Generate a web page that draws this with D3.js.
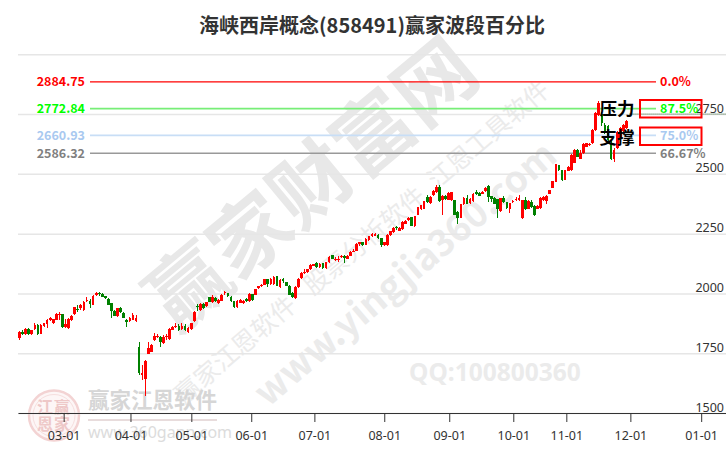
<!DOCTYPE html>
<html><head><meta charset="utf-8">
<script src="https://cdn.jsdelivr.net/npm/d3@7/dist/d3.min.js"></script>
<style>html,body{margin:0;padding:0;background:#fff}svg{display:block}</style></head>
<body><svg id="c" width="726" height="450"></svg>
<script>
// [open, close, high, low]
const legFebMar=[[1813,1838,1841,1807],[1840,1831,1845,1828],[1829,1852,1854,1827],[1852,1829,1854,1827],[1829,1845,1847,1827],[1852,1866,1875,1847],[1866,1829,1873,1825],[1831,1868,1873,1829],[1864,1875,1878,1860],[1873,1887,1892,1855],[1887,1899,1903,1885],[1875,1891,1895,1873],[1889,1915,1918,1887],[1910,1915,1922,1887],[1912,1859,1914,1857],[1859,1873,1893,1856],[1854,1893,1897,1852],[1889,1907,1910,1885],[1912,1943,1945,1910],[1935,1930,1953,1924],[1938,1953,1957,1931],[1929,1965,1968,1927],[1970,1973,1984,1965],[1970,1957,1977,1938],[1952,1990,1993,1950],[1993,2001,2007,1990],[2001,1998,2008,1990],[1998,1987,2001,1985],[1988,1980,1991,1978],[1976,1953,1980,1950],[1959,1925,1962,1896],[1927,1907,1930,1904],[1904,1938,1941,1901],[1937,1921,1942,1918],[1920,1899,1922,1897],[1889,1879,1891,1859],[1883,1897,1903,1880],[1890,1909,1917,1887],[1883,1896,1910,1881]];
const legAprJun=[[1777,1669,1795,1660],[1658,1666,1701,1638],[1641,1719,1723,1572],[1747,1772,1798,1745],[1757,1784,1787,1755],[1805,1820,1833,1803],[1816,1820,1829,1814],[1817,1798,1820,1775],[1791,1819,1828,1789],[1816,1820,1830,1805],[1809,1852,1855,1807],[1847,1861,1864,1845],[1858,1865,1875,1855],[1865,1847,1873,1843],[1851,1865,1875,1848],[1862,1845,1872,1841],[1837,1855,1860,1835],[1851,1875,1878,1849],[1884,1923,1926,1882],[1948,1942,1957,1925],[1929,1957,1960,1927],[1957,1938,1960,1936],[1947,1963,1966,1945],[1984,1966,1987,1963],[1963,1984,1993,1961],[1981,1967,1984,1965],[1959,1973,1976,1957],[1970,1995,1998,1968],[2001,2007,2012,1993],[2001,1988,2003,1986],[1987,1967,1990,1965],[1967,1942,1969,1940],[1942,1970,1972,1940],[1962,1973,1978,1959]];
const legJunAug=[[1958,1969,1972,1955],[1976,1969,1982,1966],[1967,1997,2000,1964],[1997,1972,1999,1970],[1995,2018,2020,1993],[2022,2029,2032,2020],[2029,2036,2039,2027],[2036,2060,2062,2034],[2060,2039,2062,2025],[2039,2060,2063,2037],[2039,2070,2072,2037],[2071,2032,2073,2030],[2025,2057,2059,2023],[2059,2052,2064,2045],[2046,2032,2048,2030],[2032,1994,2034,1992],[2000,1983,2007,1980],[1980,2028,2030,1978],[2025,2061,2063,2023],[2063,2087,2089,2061],[2085,2090,2102,2081],[2088,2101,2104,2086],[2101,2120,2123,2099],[2116,2121,2125,2114],[2128,2109,2131,2106],[2109,2123,2126,2107],[2126,2106,2128,2104],[2105,2131,2133,2103],[2130,2154,2157,2128],[2160,2144,2162,2142],[2143,2146,2154,2134],[2143,2146,2157,2132],[2151,2157,2160,2149],[2157,2147,2160,2126],[2144,2158,2160,2142],[2158,2173,2176,2156],[2175,2179,2185,2172],[2178,2207,2210,2176],[2207,2213,2214,2200],[2215,2201,2217,2199],[2204,2228,2230,2202],[2223,2239,2242,2221],[2239,2249,2252,2237],[2242,2249,2252,2240],[2246,2230,2249,2228],[2231,2202,2233,2196],[2202,2214,2216,2200],[2202,2246,2248,2200],[2244,2259,2262,2242],[2255,2274,2277,2253],[2277,2272,2281,2266],[2263,2274,2277,2261]];
const legAugOct=[[2269,2298,2301,2267],[2291,2303,2306,2289],[2305,2316,2319,2303],[2319,2284,2321,2282],[2281,2322,2325,2279],[2330,2361,2363,2328],[2352,2368,2371,2350],[2354,2385,2388,2352],[2403,2382,2410,2378],[2378,2403,2406,2376],[2410,2428,2432,2408],[2424,2445,2452,2422],[2445,2385,2452,2383],[2392,2406,2410,2330],[2406,2393,2410,2391],[2392,2421,2424,2390],[2389,2424,2426,2387],[2389,2330,2391,2328],[2340,2315,2344,2291],[2316,2372,2374,2314],[2372,2400,2403,2370],[2400,2375,2410,2372],[2378,2396,2399,2376],[2385,2417,2420,2383],[2424,2414,2431,2410],[2420,2408,2423,2406],[2417,2424,2427,2415],[2427,2441,2445,2425],[2449,2403,2453,2382],[2406,2396,2409,2382],[2400,2375,2403,2372],[2393,2354,2396,2315],[2344,2399,2401,2342],[2400,2382,2406,2380],[2382,2357,2384,2355],[2354,2378,2380,2336],[2382,2386,2389,2380],[2392,2396,2403,2385],[2392,2397,2413,2385],[2316,2389,2392,2313],[2392,2354,2403,2350],[2354,2386,2389,2352],[2382,2361,2391,2358],[2365,2326,2368,2323],[2354,2365,2368,2352],[2357,2400,2403,2355],[2389,2403,2406,2387],[2386,2407,2410,2372],[2417,2431,2434,2415],[2441,2469,2472,2439]];
const legOctNov=[[2466,2540,2543,2464],[2536,2515,2539,2512],[2515,2473,2518,2470],[2476,2515,2518,2474],[2512,2529,2532,2510],[2515,2578,2581,2513],[2546,2599,2606,2544],[2599,2571,2602,2569],[2564,2589,2600,2562],[2586,2624,2628,2584],[2613,2627,2631,2611],[2620,2625,2629,2618],[2628,2683,2686,2626],[2683,2754,2758,2681],[2746,2796,2806,2744],[2752,2714,2760,2700],[2706,2673,2712,2668],[2700,2640,2705,2635],[2624,2561,2640,2558],[2561,2599,2610,2550],[2607,2675,2680,2605],[2649,2691,2696,2645],[2680,2705,2710,2675],[2691,2721,2726,2688]];
const candles=[].concat(legFebMar,legAprJun,legJunAug,legAugOct,legOctNov);

const slotCount=231;
const tickLabels=["03-01","04-01","05-01","06-01","07-01","08-01","09-01","10-01","11-01","12-01","01-01"];
const tickSlots=[14.4,36.2,56.05,75.6,96.2,119,140.2,161.1,178.4,199.3,222.4];
const priceTicks=[1500,1750,2000,2250,2500,2750,3000];
const levelValues=[2884.75,2772.84,2660.93,2586.32];
const levelPercents=["0.0%","87.5%","75.0%","66.67%"];
const levelColors=["#ff0000","#00ff00","#a9c9f0","#808080"];
const lineColors=["#ff0000","#77ee77","#c8def6","#999999"];
const lastPrice=2750;

const UP="#ff0000",DOWN="#008000",FONT="'Noto Sans CJK SC','Noto Sans',sans-serif";
const svg=d3.select("#c");
const x=d3.scaleLinear().domain([-0.5,slotCount-0.5]).range([18,726]);
const y=d3.scaleLinear().domain([1500,3000]).range([413,54.3]);

// watermarks
const wm=svg.append("g").attr("font-family",FONT);
function mark(t,px,py,a,size,weight,color){
  wm.append("text").attr("transform",`translate(${px},${py}) rotate(${a})`)
    .attr("font-size",size).attr("font-weight",weight).attr("fill",color).text(t);
}
mark("赢家财富网",176,334,-39.7,80,700,"#e8e8e8");
mark("赢家江恩软件",184,405,-40.4,25,400,"#ebebeb");
mark("股票分析软件",313,296,-40.4,25,400,"#ebebeb");
mark("江恩工具软件",437,190,-40.4,25,400,"#ebebeb");
mark("www.yingjia360.com",268,408,-40.5,37,700,"#ebebeb");
wm.append("text").attr("x",409).attr("y",381).attr("font-size",24.5).attr("font-weight",700)
  .attr("font-family","'Noto Sans',sans-serif").attr("fill","#ebebeb").text("QQ:100800360");

// logo
const logo=svg.append("g").attr("font-family",FONT);
logo.append("circle").attr("cx",54).attr("cy",415.5).attr("r",25).attr("fill","#fdf6f6").attr("stroke","#f3d3d3").attr("stroke-width",2.5);
logo.append("circle").attr("cx",54).attr("cy",415.5).attr("r",21).attr("fill","none").attr("stroke","#f6dede").attr("stroke-width",1);
[["江",37,413],["赢",54,413],["恩",37,430],["家",54,430]].forEach(g=>{
  logo.append("text").attr("x",g[1]).attr("y",g[2]).attr("font-size",16).attr("font-weight",700).attr("fill","#eec8c8").text(g[0]);
});
logo.append("text").attr("x",88).attr("y",408).attr("font-size",21.5).attr("font-weight",700).attr("fill","#d6d6d6").text("赢家江恩软件");
logo.append("rect").attr("x",88).attr("y",419).attr("width",129).attr("height",2).attr("fill","#e8dcdc");
logo.append("text").attr("x",88).attr("y",438).attr("font-size",16).attr("font-family","'Noto Sans',sans-serif").attr("fill","#dcdcdc").text("www.360gann.com");

// price axis (grid + labels)
const yAxis=d3.axisRight(y).tickValues(priceTicks).tickSize(708).tickFormat(d=>d===3000?"":d);
const gy=svg.append("g").attr("transform","translate(18,0)").call(yAxis);
gy.select(".domain").remove();
gy.selectAll("line").attr("stroke","#e6e6e6").attr("stroke-width",1.5);
gy.selectAll("text").attr("x",706).attr("y",-2).attr("dy",0).attr("text-anchor","end")
  .attr("font-family","'Noto Sans',sans-serif").attr("font-size",12.5).attr("fill","#333");

// level lines
levelValues.forEach((v,i)=>{
  svg.append("line").attr("x1",90).attr("x2",656).attr("y1",y(v)).attr("y2",y(v))
    .attr("stroke",lineColors[i]).attr("stroke-width",i===0?1.3:1.6);
  svg.append("text").attr("x",85).attr("y",y(v)+4.5).attr("text-anchor","end")
    .attr("font-family",FONT).attr("font-weight",700).attr("font-size",12.5).attr("fill",levelColors[i]).text(v.toFixed(2));
  svg.append("text").attr("x",660).attr("y",y(v)+4.5)
    .attr("font-family",FONT).attr("font-weight",700).attr("font-size",12.5).attr("fill",levelColors[i]).text(levelPercents[i]);
});
svg.append("line").attr("x1",x(199)).attr("x2",726).attr("y1",y(lastPrice)).attr("y2",y(lastPrice))
  .attr("stroke","#336633").attr("stroke-width",1).attr("stroke-dasharray","1,1");

// candles
const bw=2.7;
const g=svg.append("g").attr("shape-rendering","crispEdges").selectAll("g").data(candles).join("g")
  .attr("fill",d=>d[1]>=d[0]?UP:DOWN).attr("stroke",d=>d[1]>=d[0]?UP:DOWN);
g.append("line").attr("x1",(d,i)=>x(i)).attr("x2",(d,i)=>x(i)).attr("y1",d=>y(d[2])).attr("y2",d=>y(d[3])).attr("stroke-width",1);
g.append("rect").attr("x",(d,i)=>x(i)-bw/2).attr("width",bw).attr("stroke","none")
  .attr("y",d=>y(Math.max(d[0],d[1]))).attr("height",d=>Math.max(1,Math.abs(y(d[0])-y(d[1]))));

// time axis
const xAxis=d3.axisBottom(x).tickValues(tickSlots).tickSize(9).tickSizeOuter(0).tickPadding(9)
  .tickFormat((d,i)=>tickLabels[i]);
const gx=svg.append("g").attr("transform","translate(0,413)").call(xAxis);
gx.select(".domain").attr("stroke","#333").attr("stroke-width",1.2);
gx.selectAll("line").attr("stroke","#333");
gx.selectAll("text").attr("font-family","'Noto Sans',sans-serif").attr("font-size",12.5).attr("fill","#333");

// title
svg.append("text").attr("x",372).attr("y",33).attr("text-anchor","middle").attr("font-family",FONT)
  .attr("font-weight",700).attr("font-size",20).attr("fill","#333").text("海峡西岸概念(858491)赢家波段百分比");

// annotations
[[100,"压力",115],[127.5,"支撑",144]].forEach(a=>{
  svg.append("rect").attr("x",640).attr("y",a[0]).attr("width",61.5).attr("height",17.5)
    .attr("fill","none").attr("stroke","#ff0000").attr("stroke-width",2);
  svg.append("text").attr("x",599.5).attr("y",a[2]).attr("font-family",FONT).attr("font-weight",700)
    .attr("font-size",17.5).attr("fill","#000").text(a[1]);
});
</script></body></html>
